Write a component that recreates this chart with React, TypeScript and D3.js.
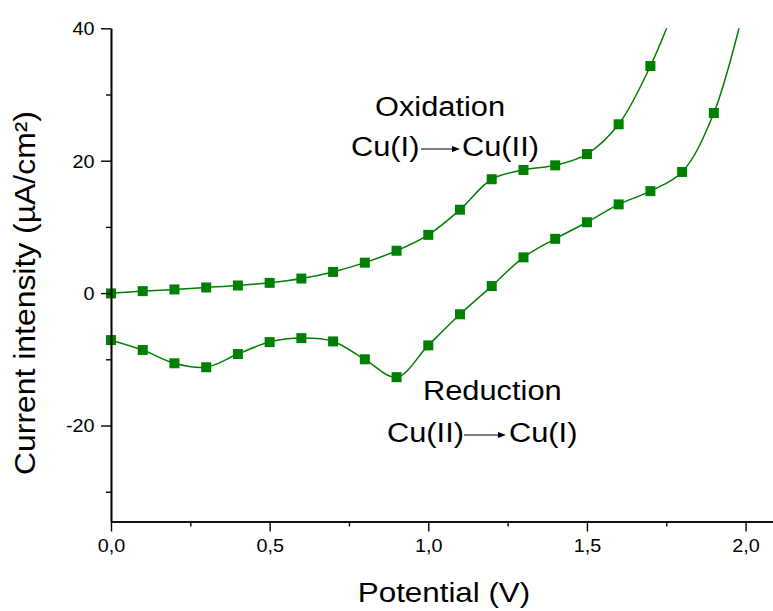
import React, { useEffect, useRef } from "react";
import * as d3 from "d3";

const W = 773;
const H = 611;

const potentials = [0, 0.1, 0.2, 0.3, 0.4, 0.5, 0.6, 0.7, 0.8, 0.9, 1.0, 1.1, 1.2, 1.3, 1.4, 1.5, 1.6, 1.7, 1.8, 1.9];
// oxidation (upper) branch, markers 0..1.7
const oxidationCurrent = [-0.05, 0.3, 0.55, 0.85, 1.15, 1.55, 2.2, 3.2, 4.6, 6.4, 8.8, 12.6, 17.2, 18.6, 19.3, 21.0, 25.5, 34.3];
// reduction (lower) branch, markers 0..1.9
const reductionCurrent = [-7.1, -8.6, -10.6, -11.2, -9.2, -7.4, -6.8, -7.3, -10.0, -12.7, -7.9, -3.2, 1.06, 5.4, 8.2, 10.7, 13.4, 15.4, 18.3, 27.2];
// where the fitted curves leave the top of the plot
const oxidationTail = [{ v: 1.8, c: 46 }];
const reductionTail = [{ v: 2.0, c: 44 }];

const yMajorTicks = [-20, 0, 20, 40];
const yMinorTicks = [-30, -10, 10, 30];
const xMajorTicks = [0, 0.5, 1.0, 1.5, 2.0];
const xMinorTicks = [0.25, 0.75, 1.25, 1.75];

const GREEN = "#008000";
const FONT = "'Liberation Sans', Arial, Helvetica, sans-serif";

const x = d3.scaleLinear().domain([0, 2.1]).range([111, 777.3]);
const y = d3.scaleLinear().domain([-34.5, 40]).range([521.5, 28.3]);

type Pt = { v: number; c: number };

const oxPts: Pt[] = oxidationCurrent.map((c, i) => ({ v: potentials[i], c }));
const redPts: Pt[] = reductionCurrent.map((c, i) => ({ v: potentials[i], c }));

const line = d3
  .line<Pt>()
  .x((d) => x(d.v))
  .y((d) => y(d.c))
  .curve(d3.curveCatmullRom.alpha(0.5));

function Label({ x0, y0, text, size, sx = 1.1 }: { x0: number; y0: number; text: string; size: number; sx?: number }) {
  return (
    <text transform={`translate(${x0},${y0}) scale(${sx},1)`} fontSize={size} fontFamily={FONT} fill="#000">
      {text}
    </text>
  );
}

function Arrow({ x1, x2, yy }: { x1: number; x2: number; yy: number }) {
  return (
    <g>
      <line x1={x1} x2={x2 - 6} y1={yy} y2={yy} stroke="#000" strokeWidth={1.2} />
      <path d={`M${x2},${yy} L${x2 - 8},${yy - 3} L${x2 - 8},${yy + 3} Z`} fill="#000" />
    </g>
  );
}

export default function App() {
  const leftRef = useRef<SVGGElement>(null);
  const bottomRef = useRef<SVGGElement>(null);

  useEffect(() => {
    const fmtX = (d: number) => d3.format(".1f")(d).replace(".", ",");
    const left = d3.select(leftRef.current!);
    left.selectAll("*").remove();
    left
      .append("g")
      .call(d3.axisLeft(y).tickValues(yMinorTicks).tickSize(5).tickSizeOuter(0).tickFormat(() => ""));
    left
      .append("g")
      .call(
        d3
          .axisLeft(y)
          .tickValues(yMajorTicks)
          .tickSize(10)
          .tickSizeOuter(0)
          .tickPadding(5)
          .tickFormat((d) => String(d))
      );
    left.selectAll("path.domain").attr("stroke-width", 1.6);
    left.selectAll(".tick line").attr("stroke-width", 1.4);
    left
      .selectAll(".tick text")
      .attr("font-size", 18)
      .attr("font-family", FONT)
      .attr("fill", "#000")
      .attr("transform", "scale(1.1,1)")
      .attr("dy", "0.35em");

    const bottom = d3.select(bottomRef.current!);
    bottom.selectAll("*").remove();
    bottom
      .append("g")
      .call(d3.axisBottom(x).tickValues(xMinorTicks).tickSize(5).tickSizeOuter(0).tickFormat(() => ""));
    bottom
      .append("g")
      .call(
        d3
          .axisBottom(x)
          .tickValues(xMajorTicks)
          .tickSize(10)
          .tickSizeOuter(0)
          .tickPadding(8)
          .tickFormat((d) => fmtX(d as number))
      );
    bottom.selectAll("path.domain").attr("stroke-width", 1.6);
    bottom.selectAll(".tick line").attr("stroke-width", 1.4);
    bottom
      .selectAll(".tick text")
      .attr("font-size", 18)
      .attr("font-family", FONT)
      .attr("fill", "#000")
      .attr("transform", "scale(1.1,1)");
  }, []);

  const ms = 10;

  return (
    <svg
      width={W}
      height={H}
      viewBox={`0 0 ${W} ${H}`}
      style={{ position: "absolute", left: 0, top: 0, background: "#fff" }}
    >
      <defs>
        <clipPath id="plot">
          <rect x={x(0)} y={y(40)} width={W - x(0)} height={y(-34.5) - y(40)} />
        </clipPath>
      </defs>
      <rect x={0} y={0} width={W} height={H} fill="#fff" />

      <g clipPath="url(#plot)">
        <path d={line([...oxPts, ...oxidationTail]) || ""} fill="none" stroke={GREEN} strokeWidth={1.5} />
        <path d={line([...redPts, ...reductionTail]) || ""} fill="none" stroke={GREEN} strokeWidth={1.5} />
      </g>

      {[...oxPts, ...redPts].map((d, i) => (
        <rect key={i} x={x(d.v) - ms / 2} y={y(d.c) - ms / 2} width={ms} height={ms} fill={GREEN} />
      ))}

      <g ref={leftRef} transform={`translate(${x(0)},0)`} />
      <g ref={bottomRef} transform={`translate(0,${y(-34.5)})`} />

      {/* annotations */}
      <Label x0={375} y0={116} text="Oxidation" size={28} />
      <Label x0={351} y0={156} text="Cu(I)" size={28} />
      <Arrow x1={421} x2={460} yy={149} />
      <Label x0={462} y0={156} text="Cu(II)" size={28} />

      <Label x0={423} y0={400} text="Reduction" size={28} />
      <Label x0={387} y0={442} text="Cu(II)" size={28} />
      <Arrow x1={464} x2={506} yy={435} />
      <Label x0={509} y0={442} text="Cu(I)" size={28} />

      {/* axis titles */}
      <text
        transform={`translate(444,602) scale(1.1,1)`}
        textAnchor="middle"
        fontSize={28.5}
        fontFamily={FONT}
        fill="#000"
      >
        Potential (V)
      </text>
      <text
        transform={`translate(35,293) rotate(-90) scale(1.1,1)`}
        textAnchor="middle"
        fontSize={29}
        fontFamily={FONT}
        fill="#000"
      >
        Current intensity (µA/cm²)
      </text>
    </svg>
  );
}
